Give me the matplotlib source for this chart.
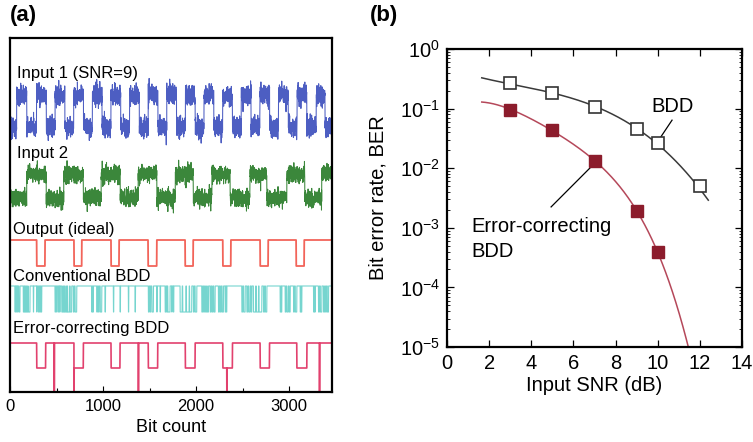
import numpy as np
import matplotlib
matplotlib.use("Agg")
import matplotlib.pyplot as plt
from matplotlib.ticker import FixedLocator, FuncFormatter, LogLocator, NullFormatter, MultipleLocator

plt.rcParams['font.family'] = ['Liberation Sans', 'DejaVu Sans']
plt.rcParams['mathtext.fontset'] = 'custom'
plt.rcParams['mathtext.rm'] = 'Liberation Sans'
plt.rcParams['mathtext.it'] = 'Liberation Sans:italic'
plt.rcParams['mathtext.bf'] = 'Liberation Sans:bold'

# ---------------- (a) waveforms over bit count ----------------
n_bits = 3460

input1_high_start = [72, 285, 485, 685, 885, 1085, 1285, 1485, 1685, 1885,
                     2085, 2285, 2485, 2685, 2885, 3085, 3290]
input1_high_end = [180, 390, 590, 790, 990, 1190, 1390, 1590, 1790, 1990,
                   2190, 2390, 2590, 2790, 2990, 3190, 3385]

input2_high_start = [180, 578, 980, 1378, 1776, 2170, 2578, 2975, 3350]
input2_high_end = [390, 788, 1185, 1578, 1970, 2365, 2760, 3168, 3460]

output_low_start = [287, 688, 1086, 1484, 1882, 2287, 2688, 3075]
output_low_end = [376, 771, 1172, 1577, 1968, 2373, 2774, 3161]

conv_low_intervals = [
    (54, 58), (66, 70), (80, 84), (95, 107), (143, 150), (156, 162), (168, 176),
    (182, 190), (196, 215), (251, 254), (287, 290), (305, 312), (320, 326),
    (334, 341), (484, 490), (500, 506), (520, 526), (534, 538), (556, 566),
    (572, 580), (586, 600), (606, 615), (620, 640), (646, 663), (681, 690),
    (700, 717), (878, 884), (890, 896), (932, 940), (950, 958), (970, 986),
    (1021, 1026), (1111, 1115), (1183, 1187), (1272, 1276), (1344, 1348),
    (1487, 1495), (1505, 1512), (1525, 1541), (1577, 1581), (1613, 1617),
    (1667, 1675), (1684, 1690), (1696, 1720), (1738, 1742), (1756, 1760),
    (1828, 1850), (1856, 1890), (1896, 1925), (1930, 1953), (1971, 1980),
    (1990, 2007), (2061, 2070), (2080, 2090), (2100, 2112), (2120, 2133),
    (2151, 2160), (2170, 2180), (2190, 2204), (2240, 2250), (2260, 2270),
    (2280, 2294), (2312, 2318), (2325, 2330), (2491, 2500), (2510, 2527),
    (2545, 2555), (2565, 2580), (2590, 2599), (2616, 2640), (2646, 2670),
    (2676, 2706), (2724, 2735), (2745, 2760), (2903, 2910), (2916, 2921),
    (2957, 2965), (2975, 2990), (3000, 3011), (3047, 3056), (3066, 3082),
    (3118, 3124), (3130, 3136), (3262, 3268), (3274, 3280), (3315, 3325),
    (3335, 3351), (3369, 3380), (3390, 3400), (3410, 3423)]

ec_low_start = [287, 688, 1086, 1486, 1884, 2287, 2688, 3082]
ec_low_end = [383, 788, 1182, 1587, 1989, 2390, 2788, 3190]
ec_error_spikes = [476, 688, 1380, 2330, 3326]

input_snr = 9

# ---------------- (b) bit error rate vs input SNR ----------------
bdd_snr = [3, 5, 7, 9, 10, 12]
bdd_ber = [0.27, 0.185, 0.106, 0.045, 0.026, 0.0051]
ec_snr = [3, 5, 7, 9, 10]
ec_ber = [0.095, 0.044, 0.0132, 0.0019, 0.0004]
# where the fitted curves start and end
bdd_curve_ends = [(1.65, 0.32), (12.4, 0.0026)]
ec_curve_ends = [(1.65, 0.13), (11.45, 1e-5)]


def intervals_mask(starts, ends, bits):
    m = np.zeros(bits.size, dtype=bool)
    for s, e in zip(starts, ends):
        m[(bits >= s) & (bits < e)] = True
    return m


bits = np.arange(n_bits + 1)

fig = plt.figure(figsize=(7.53, 4.42), dpi=100)

# ---- panel (a)
axa = fig.add_axes([10 / 753, 50 / 442, 322 / 753, 354 / 442])
axa.set_xlim(0, n_bits)
axa.set_ylim(392, 38)

rng = np.random.default_rng(input_snr)

hi1 = intervals_mask(input1_high_start, input1_high_end, bits)
y1 = np.where(hi1, 95.0, 127.0) + rng.normal(0, 5.0, bits.size)
axa.plot(bits, y1, color='#3a4cbc', lw=0.75, alpha=0.9)

hi2 = intervals_mask(input2_high_start, input2_high_end, bits)
y2 = np.where(hi2, 174.0, 198.0) + rng.normal(0, 4.2, bits.size)
axa.plot(bits, y2, color='#267a26', lw=0.75, alpha=0.9)

lo_out = intervals_mask(output_low_start, output_low_end, bits)
axa.plot(bits, np.where(lo_out, 266.0, 240.0), color='#f2645a', lw=1.3)

lo_conv = intervals_mask([a for a, b in conv_low_intervals],
                         [b for a, b in conv_low_intervals], bits)
axa.plot(bits, np.where(lo_conv, 312.0, 286.0), color='#3cc4bb', lw=0.8, alpha=0.7)

lo_ec = intervals_mask(ec_low_start, ec_low_end, bits)
y_ec = np.where(lo_ec, 368.0, 343.0)
y_ec[np.array(ec_error_spikes)] = 395.0
axa.plot(bits, y_ec, color='#e2416e', lw=1.2)

label_kw = dict(fontsize=12, ha='left', va='baseline')
axa.text(75, 77.7, f'Input 1 (SNR={input_snr})', **label_kw)
axa.text(75, 157.7, 'Input 2', **label_kw)
axa.text(35, 234.3, 'Output (ideal)', **label_kw)
axa.text(35, 281.0, 'Conventional BDD', **label_kw)
axa.text(35, 333.3, 'Error-correcting BDD', **label_kw)

axa.xaxis.set_major_locator(FixedLocator([0, 1000, 2000, 3000]))
axa.xaxis.set_minor_locator(MultipleLocator(500))
axa.tick_params(axis='x', which='both', direction='in', labelsize=12, pad=5)
axa.tick_params(axis='x', which='major', length=4, width=0.8)
axa.tick_params(axis='x', which='minor', length=3, width=0.8)
axa.set_yticks([])
axa.set_xlabel('Bit count', fontsize=13, labelpad=4)
for sp in axa.spines.values():
    sp.set_linewidth(1.6)

fig.text(10 / 753, 1 - 15 / 442, '(a)', fontsize=16, fontweight='bold',
         ha='left', va='center')

# ---- panel (b)
axb = fig.add_axes([447 / 753, 95 / 442, 295 / 753, 298 / 442])
axb.set_yscale('log')
axb.set_xlim(0, 14)
axb.set_ylim(1e-5, 1)


def fitted_curve(x, y, ends, deg):
    xs = np.concatenate([[e[0] for e in ends], x])
    ys = np.log10(np.concatenate([[e[1] for e in ends], y]))
    coef = np.polyfit(xs, ys, deg)
    grid = np.linspace(ends[0][0], ends[1][0], 300)
    return grid, 10 ** np.polyval(coef, grid)


gx, gy = fitted_curve(bdd_snr, bdd_ber, bdd_curve_ends, 3)
axb.plot(gx, gy, color='#3a3a3a', lw=1.1, zorder=2)
gx, gy = fitted_curve(ec_snr, ec_ber, ec_curve_ends, 4)
axb.plot(gx, gy, color='#b5485a', lw=1.1, zorder=2)

axb.plot(bdd_snr, bdd_ber, ls='none', marker='s', ms=9, mfc='white',
         mec='#333333', mew=1.2, zorder=3)
axb.plot(ec_snr, ec_ber, ls='none', marker='s', ms=9, mfc='#8c1c2c',
         mec='#8c1c2c', mew=1.0, zorder=3)

axb.text(9.72, 0.0887, 'BDD', fontsize=14.5, ha='left', va='baseline')
axb.plot([10.68, 10.11], [0.064, 0.032], color='black', lw=0.9)
axb.text(1.17, 10 ** -3.075, 'Error-correcting', fontsize=14.5, ha='left', va='baseline')
axb.text(1.17, 10 ** -3.485, 'BDD', fontsize=14.5, ha='left', va='baseline')
axb.plot([4.94, 6.88], [0.00224, 0.0109], color='black', lw=0.9)

axb.xaxis.set_major_locator(MultipleLocator(2))
axb.yaxis.set_major_locator(LogLocator(base=10, numticks=10))
axb.yaxis.set_minor_locator(LogLocator(base=10, subs=np.arange(2, 10), numticks=20))
axb.yaxis.set_minor_formatter(NullFormatter())
axb.yaxis.set_major_formatter(FuncFormatter(
    lambda v, p: r'$\mathregular{10^{%d}}$' % int(round(np.log10(v)))))
axb.tick_params(which='both', direction='in', top=True, right=True)
axb.tick_params(which='major', length=5, width=0.9, labelsize=14.5, pad=5)
axb.tick_params(which='minor', length=2.5, width=0.6)
axb.set_xlabel('Input SNR (dB)', fontsize=14.5, labelpad=2)
axb.set_ylabel('Bit error rate, BER', fontsize=14.5)
axb.yaxis.set_label_coords(-0.2, 0.5)
for sp in axb.spines.values():
    sp.set_linewidth(1.6)

fig.text(370 / 753, 1 - 15 / 442, '(b)', fontsize=16, fontweight='bold',
         ha='left', va='center')

fig.savefig('out.png', dpi=100)
